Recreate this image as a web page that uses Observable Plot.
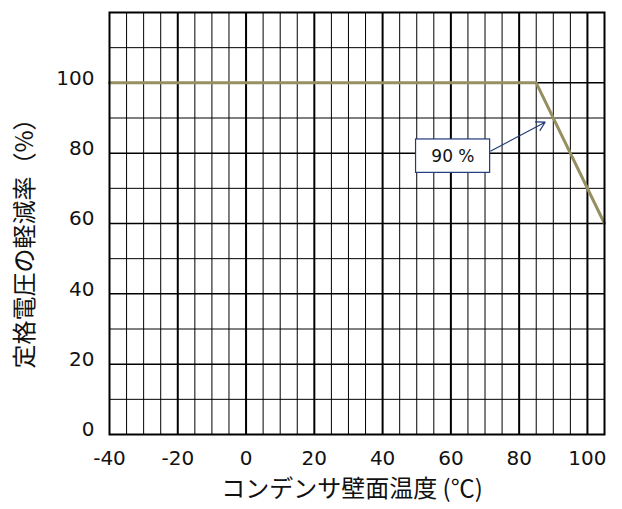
<!DOCTYPE html>
<html><head><meta charset="utf-8">
<script src="https://cdn.jsdelivr.net/npm/d3@7"></script>
<script src="https://cdn.jsdelivr.net/npm/@observablehq/plot@0.6"></script>
<style>body{margin:0;background:#fff}</style>
</head><body><div id="chart"></div>
<script>
const temps = [-40, 85, 105];
const ratios = [100, 100, 60];
const xMinor = [-35,-30,-25,-15,-10,-5,5,10,15,25,30,35,45,50,55,65,70,75,85,90,95];
const xMajor = [-20,0,20,40,60,80,100];
const yMinor = [10,30,50,70,90,110];
const yMajor = [20,40,60,80,100];
const xTicks = [-40,-20,0,20,40,60,80,100];
const yTicks = [0,20,40,60,80,100];
const noteText = "90 %";
const noteBox = [{x1:49.8, x2:71.5, y1:74.4, y2:83.9}];
const noteArrow = [{x1:71.7, y1:80.6, x2:87.6, y2:88.8}];
const notePos = [{x:60.6, y:79.1}];
const xLabel = "コンデンサ壁面温度 (℃)";
const yLabel = "定格電圧の軽減率（%）";

const derating = temps.map((t,i)=>({t, r: ratios[i]}));
const font = "'DejaVu Sans', 'Noto Sans CJK JP', sans-serif";
const jp = "'Noto Sans CJK JP', sans-serif";

const chart = Plot.plot({
  width: 622, height: 509,
  marginLeft: 109, marginRight: 18, marginTop: 12, marginBottom: 75,
  x: {domain: [-40, 105]},
  y: {domain: [0, 120]},
  style: {fontFamily: font, background: "#fff"},
  marks: [
    Plot.ruleX(xMinor, {stroke: "#000", strokeWidth: 1}),
    Plot.ruleX(xMajor, {stroke: "#000", strokeWidth: 2}),
    Plot.ruleY(yMinor, {stroke: "#000", strokeWidth: 1}),
    Plot.ruleY(yMajor, {stroke: "#000", strokeWidth: 1.5}),
    Plot.line(derating, {x: "t", y: "r", stroke: "#958f62", strokeWidth: 3}),
    Plot.frame({stroke: "#000", strokeWidth: 2}),
    Plot.axisX({ticks: xTicks, tickFormat: d => String(d), tickSize: 0, tickPadding: 16, fontSize: 20, label: null, fill: "#111"}),
    Plot.axisY({ticks: yTicks, tickFormat: d => String(d), tickSize: 0, tickPadding: 15, fontSize: 20, label: null, dy: -4.5, fill: "#111"}),
    Plot.arrow(noteArrow, {x1: "x1", y1: "y1", x2: "x2", y2: "y2", stroke: "#1f3a78", strokeWidth: 1.2, headLength: 12, bend: 0}),
    Plot.rect(noteBox, {x1: "x1", x2: "x2", y1: "y1", y2: "y2", fill: "#fff", stroke: "#1f3a78", strokeWidth: 1.2}),
    Plot.text(notePos, {x: "x", y: "y", text: () => noteText, fontSize: 17, fill: "#111"}),
    Plot.text([xLabel], {frameAnchor: "bottom", textAnchor: "middle", dx: -5, dy: 62, text: d => d, fontSize: 24, fontFamily: jp, fill: "#111"}),
    Plot.text([yLabel], {frameAnchor: "left", textAnchor: "middle", dx: -84, dy: 14, rotate: -90, text: d => d, fontSize: 24, fontFamily: jp, fill: "#111"})
  ]
});
document.getElementById("chart").appendChild(chart);
</script>
</body></html>
